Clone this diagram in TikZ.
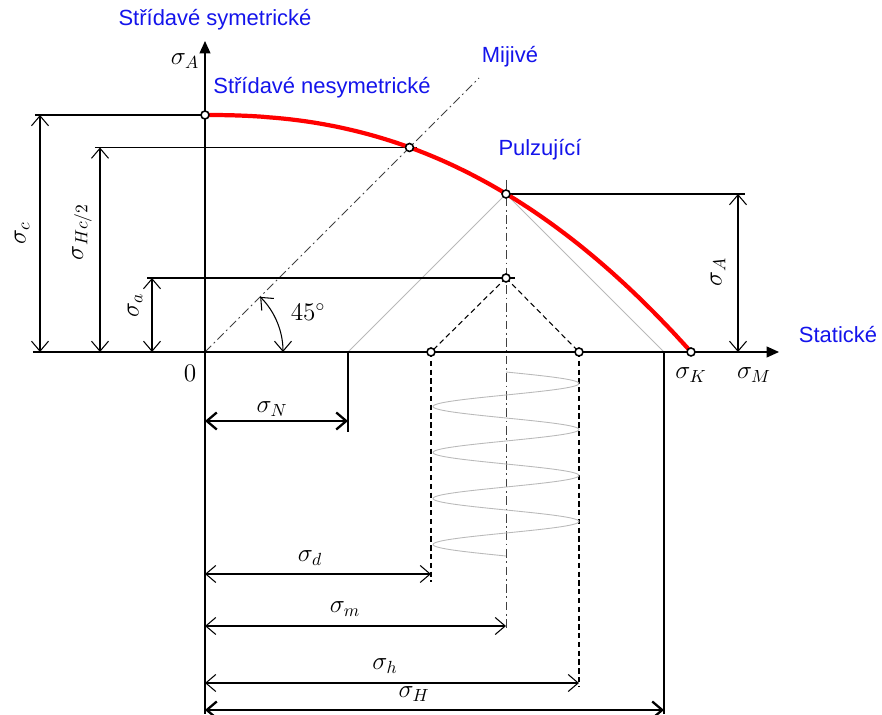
\documentclass[tikz,border=0pt]{standalone}
\usepackage{fontspec}
\setmainfont{Liberation Sans}
\usetikzlibrary{arrows.meta,calc}
\definecolor{labelblue}{RGB}{20,20,235}
\definecolor{guidegray}{RGB}{185,185,185}

\begin{document}
\begin{tikzpicture}[
  x=0.02cm, y=0.02cm,
  every node/.style={font=\fontsize{14}{16}\selectfont},
  bluetxt/.style={text=labelblue, font=\fontsize{12.5}{14}\selectfont},
  axis/.style={line width=0.8pt, -{Triangle[length=0.25cm,width=0.22cm]}},
  dim/.style={line width=0.6pt,
    {Straight Barb[length=0.2cm,width=0.34cm]}-{Straight Barb[length=0.2cm,width=0.34cm]}},
  thickdim/.style={dim, line width=1.3pt},
  ext/.style={line width=0.6pt},
  dashdot/.style={line width=0.5pt, black!75, dash pattern=on 5pt off 2pt on 1pt off 2pt},
  dashln/.style={line width=0.6pt, dash pattern=on 3pt off 2pt},
  guide/.style={guidegray, line width=0.5pt},
  redcurve/.style={red, line width=2.4pt},
  mark pt/.style={circle, draw, fill=white, line width=0.9pt, inner sep=0pt, minimum size=0.16cm}
]
\useasboundingbox (-205,-363) rectangle (677,352);

%% Body diagramu
\coordinate (O)  at (0,0);
\coordinate (C)  at (0,237);
\coordinate (Q)  at (204.5,204.5);
\coordinate (P)  at (301,158);
\coordinate (M)  at (301,74);
\coordinate (D)  at (226,0);
\coordinate (h)  at (374,0);
\coordinate (N)  at (143,0);
\coordinate (Hc) at (459,0);
\coordinate (K)  at (486,0);

%% Pomocne cary
\draw[dashdot] (O) -- (274,274);
\draw[dashdot] (301,172) -- (301,-278);
\draw[guide] (P) -- (N);
\draw[guide] (P) -- (Hc);
\draw[dashln] (M) -- (D);
\draw[dashln] (M) -- (h);
\draw[dashln] (D) -- (226,-230);
\draw[dashln] (h) -- (374,-334);
\draw[guide] plot[domain=20:204, samples=240] ({301+73*sin((\x-20)/46*360)}, {-\x});

%% Vynasecky
\draw[ext] (-170,237) -- (C);
\draw[ext] (-110,204.5) -- (212,204.5);
\draw[ext] (-58,74) -- (310,74);
\draw[ext] (P) -- (540,158);
\draw[ext] (N) -- (143,-80);
\draw[ext] (Hc) -- (459,-362);

%% Osy
\draw[axis] (-172,0) -- (574,0);
\draw[axis] (0,-362) -- (0,311);

%% Kota svisle
\draw[dim] (-165,0) -- (-165,237);
\draw[dim] (-105,0) -- (-105,204.5);
\draw[dim] (-53,0) -- (-53,74);
\draw[dim] (533,0) -- (533,158);
\draw[dim] (78,0) arc[start angle=0, end angle=45, radius=78];

%% Kota vodorovne
\draw[thickdim] (0,-69) -- (143,-69);
\draw[dim] (0,-222) -- (226,-222);
\draw[dim] (0,-274) -- (301,-274);
\draw[dim] (0,-331) -- (374,-331);
\draw[thickdim] (0,-358) -- (459,-358);

%% Mezni krivka
\draw[redcurve] (C) -- plot[domain=1:486, samples=120] (\x, {237*(1-(\x/486)^2.3)});

\foreach \p in {C,Q,P,M,D,h,K}
  \node[mark pt] at (\p) {};

%% Popisy
\node[bluetxt] (symlbl)  at (10,332)  {Střídavé symetrické};
\node[bluetxt] (nsymlbl) at (117,264) {Střídavé nesymetrické};
\node[bluetxt] (mijlbl)  at (305,295) {Mijivé};
\node[bluetxt] (pullbl)  at (335,202) {Pulzující};
\node[bluetxt] (statlbl) at (633,17)  {Statické};

\node (sAaxis) at (-20,291) {$\sigma_A$};
\node (sK)     at (486,-23) {$\sigma_K$};
\node (sM)     at (549,-23) {$\sigma_M$};
\node (zero)   at (-15,-21) {$0$};
\node (angl)   at (103,40)  {$45^\circ$};

\node[rotate=90] (sc)   at (-183,119) {$\sigma_c$};
\node[rotate=90] (sHc)  at (-123,120) {$\sigma_{Hc/2}$};
\node[rotate=90] (sa)   at (-70,47)   {$\sigma_a$};
\node[rotate=90] (sA)   at (513,80)   {$\sigma_A$};

\node (sN) at (67,-57)   {$\sigma_N$};
\node (sd) at (105,-206) {$\sigma_d$};
\node (sm) at (140,-257) {$\sigma_m$};
\node (sh) at (180,-314) {$\sigma_h$};
\node (sH) at (209,-342) {$\sigma_H$};

\end{tikzpicture}
\end{document}
